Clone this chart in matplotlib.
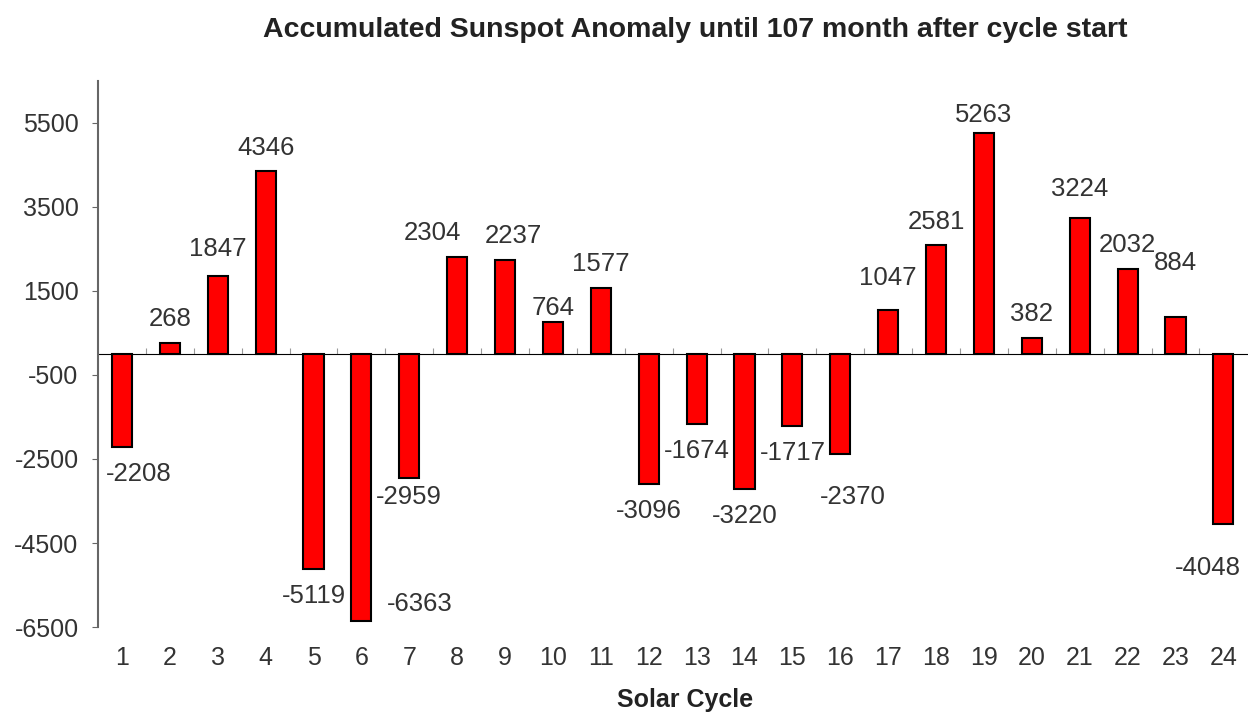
import matplotlib
matplotlib.use('Agg')
import matplotlib.pyplot as plt

cycles = list(range(1, 25))
anomaly = [-2208, 268, 1847, 4346, -5119, -6363, -2959, 2304, 2237, 764, 1577,
           -3096, -1674, -3220, -1717, -2370, 1047, 2581, 5263, 382, 3224, 2032,
           884, -4048]
y_ticks = [5500, 3500, 1500, -500, -2500, -4500, -6500]

# label nudges (points) where the original chart moved a value label
label_nudge = {1: (12, 0), 3: (0, 3), 6: (42, 32), 7: (0, 6), 8: (-18, 0),
               9: (6, 0), 10: (0, -7), 16: (9, -12), 17: (0, 6), 19: (0, -4),
               21: (0, 4), 23: (0, 22), 24: (-11, -12)}

plt.rcParams['font.family'] = ['Liberation Sans', 'DejaVu Sans']
plt.rcParams['axes.unicode_minus'] = False
text_col = '#333333'
axis_col = '#666666'

fig = plt.figure(figsize=(12.48, 7.15), dpi=100)
ax = fig.add_axes([0.0785, 0.123, 0.921, 0.764])

ax.bar(cycles, anomaly, width=0.42, color='#ff0000', edgecolor='black',
       linewidth=1.5, zorder=3)

ax.set_xlim(0.5, 24.5)
ax.set_ylim(-6500, 6500)
ax.set_yticks(y_ticks)
ax.set_xticks(cycles)
ax.tick_params(axis='y', direction='out', length=4, color=axis_col,
               labelsize=18, labelcolor=text_col, pad=10)
ax.tick_params(axis='x', length=0, labelsize=18, labelcolor=text_col, pad=14)

for side in ['top', 'right', 'bottom']:
    ax.spines[side].set_visible(False)
ax.spines['left'].set_color(axis_col)
ax.spines['left'].set_linewidth(1.5)

# zero line with category separators
zero = ax.secondary_xaxis(0.5)
zero.set_xticks([c + 0.5 for c in cycles[:-1]], labels=[])
zero.tick_params(axis='x', direction='out', length=4, color='#999999')
zero.spines['bottom'].set_color('#999999')
zero.spines['bottom'].set_linewidth(1.5)

for c, v in zip(cycles, anomaly):
    dx, dy = label_nudge.get(c, (0, 0))
    off = 17 if v >= 0 else -19.5
    ax.annotate(str(v), (c, v), xytext=(dx, off + dy), textcoords='offset points',
                ha='center', va='center', fontsize=18.5, color=text_col)

fig.text(0.557, 0.958, 'Accumulated Sunspot Anomaly until 107 month after cycle start',
         ha='center', va='center', fontsize=20.5, fontweight='bold', color='#222222')
fig.text(0.549, 0.004, 'Solar Cycle', ha='center', va='bottom', fontsize=18,
         fontweight='bold', color='#222222')

fig.savefig('out.png', dpi=100)
